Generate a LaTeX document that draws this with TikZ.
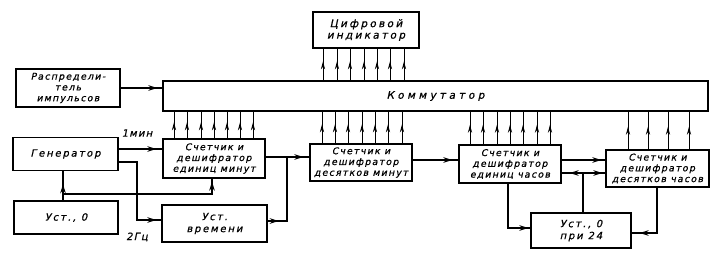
\documentclass[tikz,border=0pt]{standalone}
\usepackage{fontspec}
\setmainfont{DejaVu Sans}[FakeSlant=0.22,FakeBold=0.8]
\usetikzlibrary{arrows.meta,decorations.markings}
\tikzset{
  blk/.style={draw, line width=1.4pt, inner sep=0pt, align=center,
    font=\fontsize{9.3}{10.8}\selectfont\addfontfeature{LetterSpace=14}},
  ln/.style={line width=1.3pt},
  bus/.style={line width=0.9pt},
  marr/.style={postaction={decorate}, decoration={markings,
    mark=at position #1 with {\arrow{Stealth[length=8pt,width=4.2pt]}}}},
  carr/.style={postaction={decorate}, decoration={markings,
    mark=at position #1 with {\arrow{Stealth[length=9pt,width=5.6pt]}}}},
  lbl/.style={inner sep=0pt, font=\fontsize{10}{11}\selectfont\addfontfeature{LetterSpace=12}}
}
\begin{document}
\begin{tikzpicture}[x=1pt,y=-1pt]
\useasboundingbox (0,0) rectangle (728,260);
% blocks
\node[blk, minimum width=106pt, minimum height=36pt,
  font=\fontsize{10.5}{11.5}\selectfont\addfontfeature{LetterSpace=22}] (ind) at (366,30) {Цифровой\\индикатор};
\node[blk, minimum width=545pt, minimum height=30pt,
  font=\fontsize{10.5}{11}\selectfont\addfontfeature{LetterSpace=32}] (kom) at (435.5,96) {\raisebox{-3pt}{Коммутатор}};
\node[blk, minimum width=104pt, minimum height=38pt] (rasp) at (68,88) {Распредели-\\тель\\импульсов};
\node[blk, minimum width=105pt, minimum height=33pt,
  font=\fontsize{10}{11}\selectfont\addfontfeature{LetterSpace=18}] (gen) at (65.5,154) {Генератор};
\node[blk, minimum width=104pt, minimum height=33pt,
  font=\fontsize{10}{11}\selectfont\addfontfeature{LetterSpace=18}] (ust0) at (66,217.5) {Уст., 0};
\node[blk, minimum width=102pt, minimum height=39pt] (cem) at (214,158.5) {Счетчик и\\дешифратор\\единиц минут};
\node[blk, minimum width=102pt, minimum height=37pt] (cdm) at (361,162.5) {Счетчик и\\дешифратор\\десятков минут};
\node[blk, minimum width=102pt, minimum height=38pt] (ceh) at (510,164) {Счетчик и\\дешифратор\\единиц часов};
\node[blk, minimum width=103pt, minimum height=37pt] (cdh) at (657.5,168.5) {Счетчик и\\дешифратор\\десятков часов};
\node[blk, minimum width=105pt, minimum height=37pt,
  font=\fontsize{10}{12}\selectfont\addfontfeature{LetterSpace=18}] (ustv) at (214.5,223.5) {Уст.\\времени};
\node[blk, minimum width=100pt, minimum height=35pt,
  font=\fontsize{10}{12}\selectfont\addfontfeature{LetterSpace=18}] (ust24) at (581,230.5) {Уст., 0\\при 24};
% labels
\node[lbl] (l1) at (137,133) {1мин};
\node[lbl] (l2) at (137,237) {2Гц};
% buses
\foreach \x in {323,337,350,364,377,390,404}
  \draw[bus, marr=0.6] (kom.north -| \x,0) -- (ind.south -| \x,0);
\foreach \x in {174,187,201,214,227,240,253}
  \draw[bus, marr=0.6] (cem.north -| \x,0) -- (kom.south -| \x,0);
\foreach \x in {322,335,348,362,375,388,402}
  \draw[bus, marr=0.6] (cdm.north -| \x,0) -- (kom.south -| \x,0);
\foreach \x in {470,483,497,510,523,537,550}
  \draw[bus, marr=0.6] (ceh.north -| \x,0) -- (kom.south -| \x,0);
\foreach \x in {628,648,668,689}
  \draw[bus, marr=0.6] (cdh.north -| \x,0) -- (kom.south -| \x,0);
% connectors
\draw[ln, carr=-5pt] (rasp.east) -- (rasp.east -| kom.west);
\draw[ln, carr=-6pt] (gen.east |- 0,149) -- (cem.west |- 0,149);
\coordinate (b2) at (137,220);
\draw[ln, carr=-5pt] (gen.east |- 0,162) -| (b2) -- (ustv.west |- b2);
\coordinate (j0) at (63,194);
\draw[ln, carr=0.55] (ust0.north -| j0) -- (gen.south -| j0);
\draw[ln, carr=-3pt] (j0) -| (cem.south -| 212,0);
\coordinate (J1) at (287,157);
\coordinate (J1b) at (287,221);
\draw[ln] (cem.east |- J1) -- (J1);
\draw[ln, carr=-6pt] (J1) -- (cdm.west |- J1);
\draw[ln, carr=11pt] (ustv.east |- J1b) -- (J1b) -- (J1);
\draw[ln, carr=-6pt] (cdm.east |- 0,160) -- (ceh.west |- 0,160);
\draw[ln, carr=-4pt] (ceh.east |- 0,160) -- (cdh.west |- 0,160);
\coordinate (J2) at (583,173);
\draw[ln, carr=-8pt] (J2) -- (ceh.east |- J2);
\draw[ln, carr=-3pt] (J2) -- (cdh.west |- J2);
\draw[ln] (ust24.north -| J2) -- (J2);
\draw[ln, carr=-2pt] (ceh.south -| 508,0) |- (ust24.west |- 0,228);
\draw[ln, carr=-8pt] (cdh.south -| 657,0) |- (ust24.east |- 0,233);
\end{tikzpicture}
\end{document}
